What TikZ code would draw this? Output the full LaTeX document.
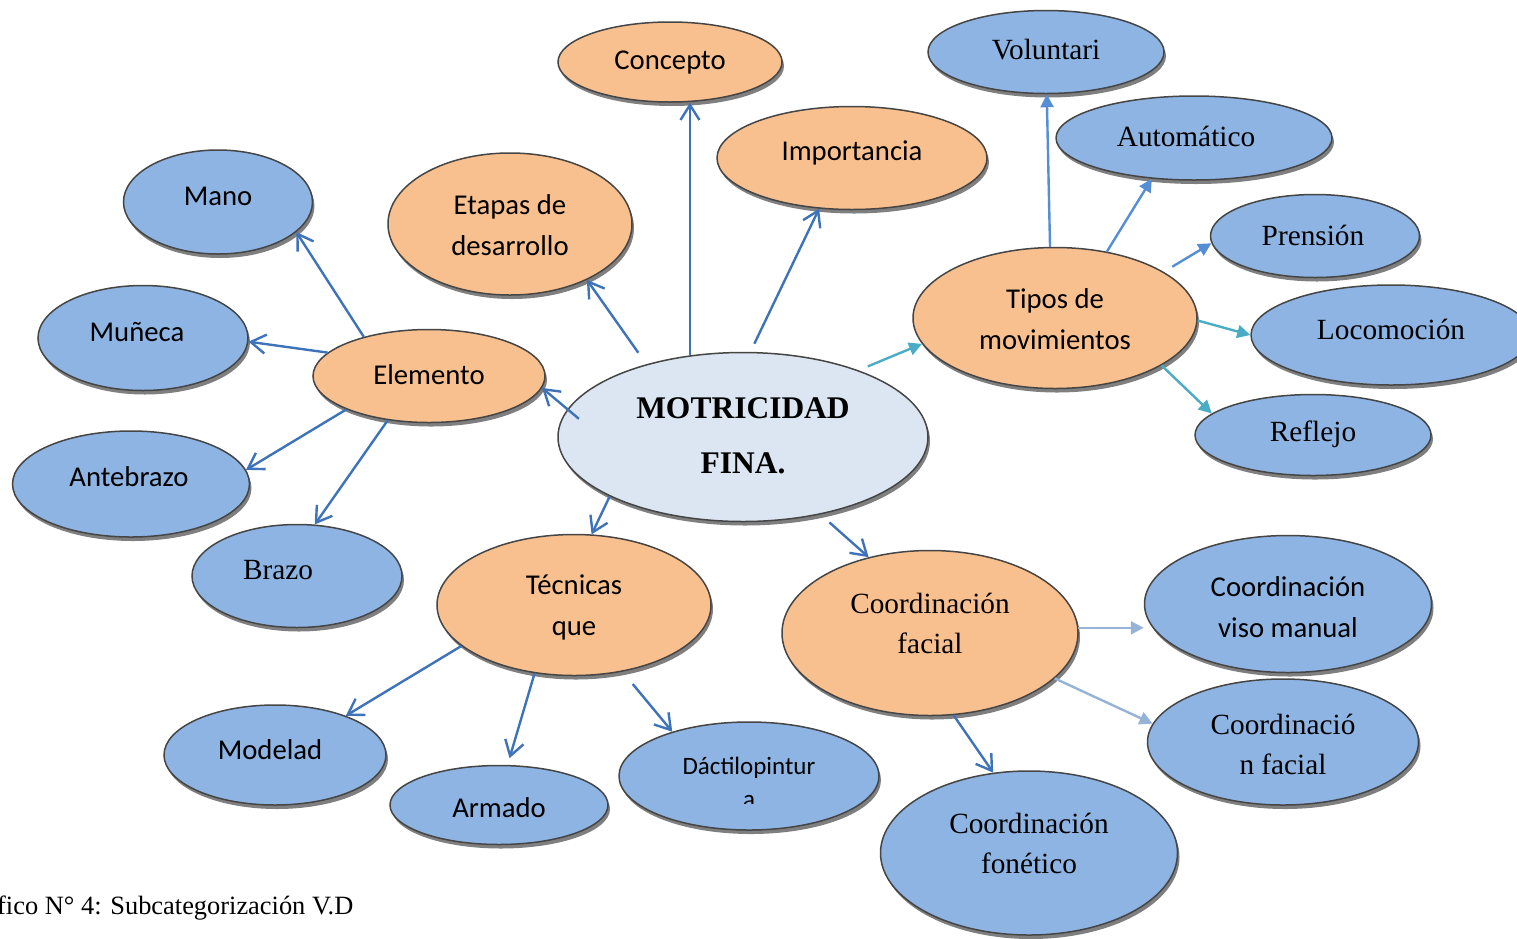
\documentclass[tikz,border=0pt]{standalone}
\usepackage{fontspec}
\setmainfont{Liberation Serif}
\newfontfamily\calib{Carlito}
\usetikzlibrary{shapes.geometric,arrows.meta,shadows}
\definecolor{orangeF}{HTML}{F9C08F}
\definecolor{blueF}{HTML}{8EB4E3}
\definecolor{centerF}{HTML}{DCE6F2}
\definecolor{edgeG}{HTML}{454545}
\definecolor{arrB}{HTML}{3F73B9}
\definecolor{arrM}{HTML}{558ED5}
\definecolor{arrC}{HTML}{4BACC6}
\definecolor{arrL}{HTML}{95B3D7}
\begin{document}
\begin{tikzpicture}[x=1pt,y=-1pt,
  ell/.style={ellipse, draw=edgeG, line width=1.5pt, inner sep=0pt,
    drop shadow={shadow xshift=2pt, shadow yshift=-4pt, fill=black, opacity=0.5}},
  org/.style={ell, fill=orangeF},
  blu/.style={ell, fill=blueF},
  cen/.style={ell, fill=centerF},
  cal/.style={font=\calib\fontsize{28.7}{41}\selectfont, align=center, inner sep=0pt},
  tim/.style={font=\fontsize{29.3}{40}\selectfont, align=center, inner sep=0pt},
  va/.style={draw=arrB, line width=2.4pt, -{Straight Barb[length=15pt,width=19pt]}},
  fa/.style={line width=2.4pt, -{Triangle[length=13pt,width=13pt]}}
]
\useasboundingbox (0,0) rectangle (1517,938);
% ellipses
\node[org, minimum width=224pt, minimum height=80pt] (concepto) at (670,62) {};
\node[org, minimum width=270pt, minimum height=103pt] (imp) at (852,158) {};
\node[org, minimum width=244pt, minimum height=142pt] (etapas) at (510,224) {};
\node[blu, minimum width=189pt, minimum height=104pt] (mano) at (218,202) {};
\node[blu, minimum width=210pt, minimum height=105pt] (muneca) at (143,338) {};
\node[org, minimum width=232pt, minimum height=93pt] (elem) at (429,376) {};
\node[blu, minimum width=237pt, minimum height=106pt] (ante) at (131,484) {};
\node[blu, minimum width=210pt, minimum height=103pt] (brazo) at (297,576) {};
\node[cen, minimum width=370pt, minimum height=169pt] (mf) at (743,437) {};
\node[org, minimum width=274pt, minimum height=141pt] (tec) at (574,605) {};
\node[blu, minimum width=222pt, minimum height=100pt] (model) at (275,755) {};
\node[blu, minimum width=218pt, minimum height=79pt] (armado) at (499,805) {};
\node[blu, minimum width=260pt, minimum height=108pt] (dact) at (749,776) {};
\node[org, minimum width=296pt, minimum height=165pt] (cf) at (930,633) {};
\node[blu, minimum width=287pt, minimum height=137pt] (viso) at (1288,604) {};
\node[blu, minimum width=271pt, minimum height=126pt] (cn) at (1283,742) {};
\node[blu, minimum width=297pt, minimum height=164pt] (fon) at (1029,853) {};
\node[org, minimum width=284pt, minimum height=141pt] (tipos) at (1055,318) {};
\node[blu, minimum width=236pt, minimum height=83pt] (volun) at (1046,52) {};
\node[blu, minimum width=276pt, minimum height=84pt] (auto) at (1194,138) {};
\node[blu, minimum width=209pt, minimum height=83pt] (pren) at (1315,236) {};
\node[blu, minimum width=280pt, minimum height=100pt] (loco) at (1391,335) {};
\node[blu, minimum width=236pt, minimum height=81pt] (refl) at (1313,435) {};
% texts
\node[cal] (t-concepto) at (670,62) {Concepto};
\node[cal] (t-imp) at (852,153) {Importancia};
\node[cal] (t-etapas) at (510,225) {Etapas de\\desarrollo};
\node[cal] (t-mano) at (218,196) {Mano};
\node[cal] (t-muneca) at (137,332) {Muñeca};
\node[cal] (t-elem) at (429,375) {Elemento};
\node[cal] (t-ante) at (129,477) {Antebrazo};
\node[tim] (t-brazo) at (278,570) {Brazo};
\node[tim, font=\bfseries\fontsize{31.5}{55}\selectfont] (t-mf) at (743,436) {MOTRICIDAD\\FINA.};
\node[cal] (t-tec) at (574,607) {Técnicas\\que};
\node[cal] (t-model) at (270,750) {Modelad};
\node[cal] (t-armado) at (499,808) {Armado};
\begin{scope}
\clip (600,700) rectangle (900,803);
\node[cal, font=\calib\fontsize{25}{33}\selectfont] (t-dact) at (749,782) {Dáctilopintur\\a};
\end{scope}
\node[tim] (t-cf) at (930,623) {Coordinación\\facial};
\node[cal] (t-viso) at (1288,607) {Coordinación\\viso manual};
\node[tim] (t-cn) at (1283,744) {Coordinació\\n facial};
\node[tim] (t-fon) at (1029,843) {Coordinación\\fonético};
\node[cal] (t-tipos) at (1055,319) {Tipos de\\movimientos};
\node[tim] (t-volun) at (1046,50) {Voluntari};
\node[tim] (t-auto) at (1186,136) {Automático};
\node[tim] (t-pren) at (1313,235) {Prensión};
\node[tim] (t-loco) at (1391,329) {Locomoción};
\node[tim] (t-refl) at (1313,434) {Reflejo};
\node[tim, font=\fontsize{26.4}{30}\selectfont, anchor=west] (cap) at (-3,908) {fico N° 4: Subcategorización V.D};
% connectors
\draw[va, shorten <=-15pt] (mf.171) -- (elem.-6);
\draw[va, shorten <=14pt] (mf.143) -- (etapas.-36);
\draw[va] (mf.123) -- (mf.123 |- concepto.south);
\draw[va, shorten <=9pt] (mf.85) -- (imp.237);
\draw[va] (mf.204) -- (tec.76);
\draw[va, shorten <=12pt] (mf.-45) -- (cf.129);
\draw[va] (elem.149) -- (mano.-21);
\draw[va] (elem.167) -- (muneca.-2);
\draw[va] (elem.202) -- (ante.7);
\draw[va] (elem.227) -- (brazo.71);
\draw[va] (tec.200) -- (model.29);
\draw[va, shorten >=7pt] (tec.240) -- (armado.78);
\draw[va, shorten <=16pt] (tec.-54) -- (dact.150);
\draw[va] (cf.-74) -- (fon.114);
\draw[fa, arrM] (tipos.94) -- (volun.-89);
\draw[fa, arrM] (tipos.52) -- (auto.224);
\draw[fa, arrM, shorten <=10pt] (tipos.23) -- (pren.184);
\draw[fa, arrC, shorten <=10pt] (mf.30) -- (tipos.191);
\draw[fa, arrC] (tipos.-1) -- (loco.180);
\draw[fa, arrC] (tipos.-24) -- (refl.168);
\draw[fa, arrL] (cf.2) -- (cf.2 -| viso.west);
\draw[fa, arrL] (cf.-20) -- (cn.172);
\end{tikzpicture}
\end{document}
